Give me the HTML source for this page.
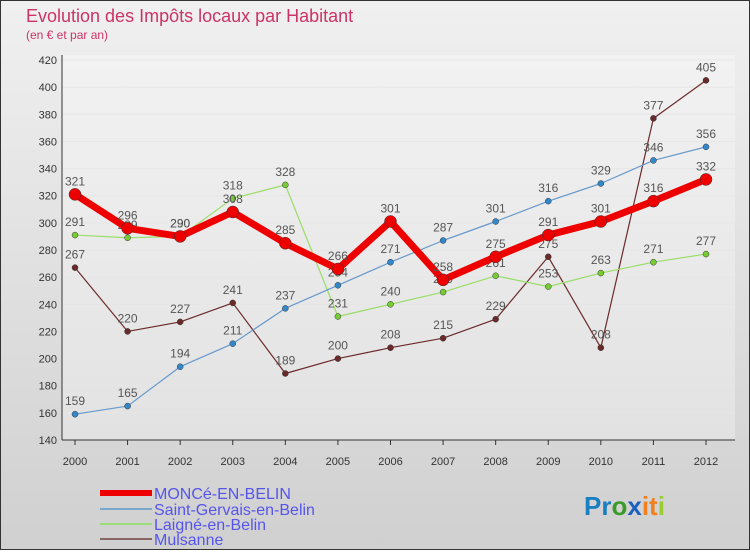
<!DOCTYPE html>
<html><head><meta charset="utf-8"><style>
body{margin:0;width:750px;height:550px;overflow:hidden;font-family:"Liberation Sans",sans-serif}
</style></head><body>
<svg width="750" height="550" xmlns="http://www.w3.org/2000/svg">
<defs>
<linearGradient id="bg" x1="0" y1="0" x2="0" y2="1"><stop offset="0" stop-color="#f0f0f0"/><stop offset="1" stop-color="#d0d0d0"/></linearGradient>
<linearGradient id="pl" x1="0" y1="0" x2="0" y2="1"><stop offset="0" stop-color="#f2f2f2"/><stop offset="1" stop-color="#e2e2e2"/></linearGradient>
</defs>
<rect x="0.5" y="0.5" width="749" height="549" fill="url(#bg)" stroke="#333"/>
<rect x="62" y="55" width="673" height="385" fill="url(#pl)"/>
<text x="26" y="22" font-size="18" fill="#cc3366">Evolution des Impôts locaux par Habitant</text>
<text x="26" y="39" font-size="12" fill="#cc3366">(en € et par an)</text>
<g id="axes"></g>
<g id="series"></g>
<g id="legend"></g>
<text x="584" y="515" font-size="26" font-weight="bold"><tspan fill="#1a7fc1">Pr</tspan><tspan fill="#3a9a2a">o</tspan><tspan fill="#1a5fc1">x</tspan><tspan fill="#f08020">it</tspan><tspan fill="#9acd32">i</tspan></text>
</svg>
<script>
const years=[2000,2001,2002,2003,2004,2005,2006,2007,2008,2009,2010,2011,2012];
const yTicks=[140,160,180,200,220,240,260,280,300,320,340,360,380,400,420];
const monce=[321,296,290,308,285,266,301,258,275,291,301,316,332];
const gervais=[159,165,194,211,237,254,271,287,301,316,329,346,356];
const laigne=[291,289,290,318,328,231,240,249,261,253,263,271,277];
const mulsanne=[267,220,227,241,189,200,208,215,229,275,208,377,405];
const NS="http://www.w3.org/2000/svg";
const xs=i=>75+i*(706-75)/12;
const ys=v=>440-(v-140)*380/280;
function mk(t,a,p){const e=document.createElementNS(NS,t);for(const k in a)e.setAttribute(k,a[k]);p.appendChild(e);return e;}
const ax=document.getElementById('axes');
yTicks.forEach(v=>{
 const g=mk('line',{x1:62,x2:735,y1:ys(v),y2:ys(v),stroke:'#e6e6e6'},ax);
 
 
 const t=mk('text',{x:57,y:ys(v)+4,'font-size':11,'text-anchor':'end',fill:'#333'},ax);t.textContent=v;
 
 
});
years.forEach((y,i)=>{
 const t=mk('text',{x:xs(i),y:465,'font-size':11,'text-anchor':'middle',fill:'#333'},ax);t.textContent=y;
 
 
 mk('line',{x1:xs(i),x2:xs(i),y1:440,y2:445,stroke:'#333'},ax);
});
const a1=mk('line',{x1:62,x2:62,y1:55,y2:440,stroke:'#333'},ax);


const a2=mk('line',{x1:62,x2:735,y1:440,y2:440,stroke:'#333'},ax);


const S=document.getElementById('series');
const defs=[
 [mulsanne,'#6b2a2a','#6b2a2a',1.2,3,'mulsanne'],
 [laigne,'#99dd66','#77cc33',1.2,3,'laigne-en-belin'],
 [gervais,'#6699cc','#3388cc',1.2,3,'saint-gervais-en-belin'],
 [monce,'#ee0000','#ee0000',7,6,'monce-en-belin']];
defs.forEach(([d,c,pc,w,r,n])=>{
 const p=mk('polyline',{points:d.map((v,i)=>xs(i)+','+ys(v)).join(' '),fill:'none',stroke:c,'stroke-width':w,'stroke-linejoin':'round'},S);
 
 
 d.forEach((v,i)=>{
  const m=mk('circle',{cx:xs(i),cy:ys(v),r:r,fill:pc,stroke:'#333','stroke-width':0.5},S);
  
  
  const t=mk('text',{x:xs(i),y:ys(v)-9,'font-size':12,'text-anchor':'middle',fill:'#555'},S);t.textContent=v;
  
  
 });
});
const L=document.getElementById('legend');
[['MONCé-EN-BELIN','#ee0000',6,493],['Saint-Gervais-en-Belin','#7aa8cc',2,509],['Laigné-en-Belin','#99dd77',2,524],['Mulsanne','#886666',2,539]].forEach(([n,c,w,y])=>{
 const l=mk('line',{x1:100,x2:152,y1:y,y2:y,stroke:c,'stroke-width':w},L);
 
 
 const t=mk('text',{x:154,y:y+6,'font-size':16,fill:'#5555ee'},L);t.textContent=n;
 
 
});
</script>
</body></html>
